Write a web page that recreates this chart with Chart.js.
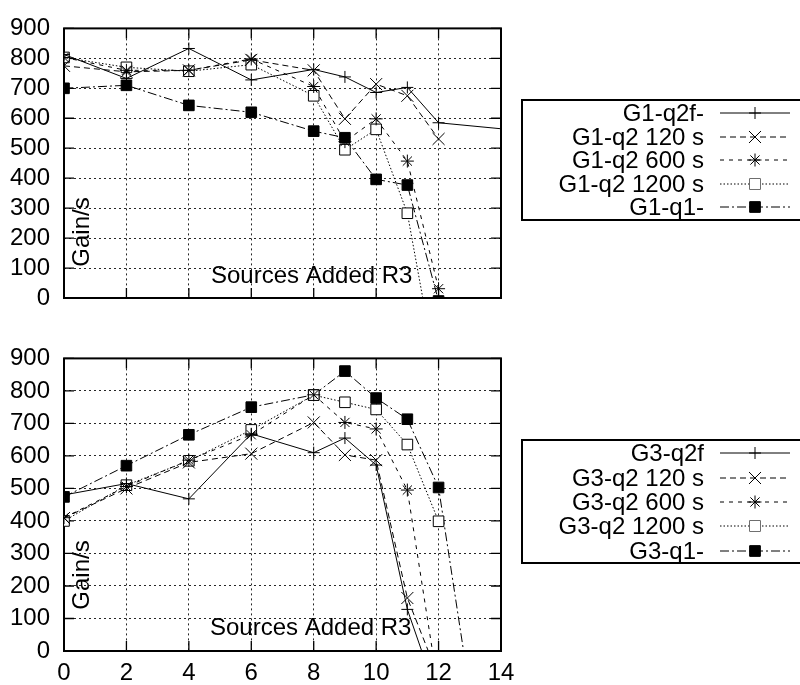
<!DOCTYPE html>
<html>
<head>
<meta charset="utf-8">
<script src="https://cdn.jsdelivr.net/npm/chart.js@4/dist/chart.umd.min.js"></script>
<style>
  html, body { margin:0; padding:0; background:#fff; }
  #wrap { position:relative; width:800px; height:685px; }
  canvas { position:absolute; left:0; }
</style>
</head>
<body>
<div id="wrap">
  <canvas id="top" width="800" height="330" style="top:0"></canvas>
  <canvas id="bot" width="800" height="355" style="top:330px"></canvas>
</div>
<script>
// ---------- data ----------
const xTop = [0, 2, 4, 6, 8, 9, 10, 11, 12, 14];
const g1_q2f      = [813, 733, 833, 728, 763, 738, 686, 703, 585, 565];
const g1_q2_120   = [775, 755, 760, 795, 760, 598, 714, 675, 531, null];
const g1_q2_600   = [803, 760, 760, 798, 706, 522, 598, 457, 31, null];
const g1_q2_1200  = [803, 770, 757, 779, 675, 495, 563, 283, -290, null];
const g1_q1       = [700, 710, 643, 620, 557, 535, 396, 377, -10, null];

const xBot = [0, 2, 4, 6, 8, 9, 10, 11, 12, 13];
const g3_q2f      = [480, 515, 468, 668, 610, 655, 572, 128, -150, null];
const g3_q2_120   = [409, 500, 580, 607, 703, 603, 587, 163, -80, null];
const g3_q2_600   = [410, 506, 587, 665, 788, 703, 683, 495, -120, null];
const g3_q2_1200  = [400, 510, 585, 680, 787, 765, 743, 635, 399, null];
const g3_q1       = [474, 570, 665, 750, 788, 861, 778, 713, 503, -125];

const labelsTop = ['G1-q2f-', 'G1-q2 120 s', 'G1-q2 600 s', 'G1-q2 1200 s', 'G1-q1-'];
const labelsBot = ['G3-q2f', 'G3-q2 120 s', 'G3-q2 600 s', 'G3-q2 1200 s', 'G3-q1-'];

const xTicks = [0, 2, 4, 6, 8, 10, 12, 14];
const yTicks = [0, 100, 200, 300, 400, 500, 600, 700, 800, 900];

// ---------- styles ----------
const FONT = "'Liberation Sans', Arial, Helvetica, sans-serif";
const styles = [
  { dash: [],            pointStyle: 'cross',    radius: 6,   fill: '#000' },
  { dash: [6, 4],        pointStyle: 'crossRot', radius: 8.5, fill: '#000' },
  { dash: [4, 5],        pointStyle: 'star',     radius: 6.5, fill: '#000' },
  { dash: [1.5, 2],      pointStyle: 'rect',     radius: 7.5, fill: '#fff' },
  { dash: [9, 3, 2, 3],  pointStyle: 'rect',     radius: 7.5, fill: '#000' }
];

function pts(xs, ys) {
  const out = [];
  xs.forEach((x, i) => { if (ys[i] !== null && ys[i] !== undefined) out.push({ x: x, y: ys[i] }); });
  return out;
}

function makeDatasets(xs, series, labels, lastNoMarker) {
  return series.map((s, i) => {
    const st = styles[i];
    const data = pts(xs, s);
    const radii = data.map((p, j) => (lastNoMarker && i === 0 && j === data.length - 1) ? 0 : st.radius);
    return {
      label: labels[i],
      data: data,
      borderColor: '#000',
      borderWidth: 1,
      borderDash: st.dash,
      backgroundColor: st.fill,
      pointBackgroundColor: st.fill,
      pointBorderColor: '#000',
      pointBorderWidth: 1,
      pointStyle: st.pointStyle,
      pointRadius: radii,
      pointHoverRadius: radii,
      tension: 0,
      fill: false
    };
  });
}

// frame with inward ticks on all four sides
const framePlugin = {
  id: 'frame',
  beforeDatasetsDraw(chart) {
    const { ctx, chartArea: a, scales } = chart;
    ctx.save();
    ctx.strokeStyle = '#000';
    ctx.lineWidth = 1.3;
    ctx.setLineDash([]);
    ctx.beginPath();
    xTicks.forEach(v => {
      const px = scales.x.getPixelForValue(v);
      ctx.moveTo(px, a.bottom); ctx.lineTo(px, a.bottom - 10);
      ctx.moveTo(px, a.top); ctx.lineTo(px, a.top + 10);
    });
    yTicks.forEach(v => {
      const py = scales.y.getPixelForValue(v);
      ctx.moveTo(a.left, py); ctx.lineTo(a.left + 10, py);
      ctx.moveTo(a.right, py); ctx.lineTo(a.right - 10, py);
    });
    ctx.stroke();
    ctx.lineWidth = 2;
    ctx.strokeRect(a.left, a.top, a.right - a.left, a.bottom - a.top);
    ctx.restore();
  },
  afterDatasetsDraw(chart, args, opts) {
    const { ctx } = chart;
    ctx.save();
    ctx.fillStyle = '#000';
    ctx.font = '24px ' + FONT;
    ctx.save();
    ctx.translate(opts.ylabX, opts.ylabY);
    ctx.rotate(-Math.PI / 2);
    ctx.textAlign = 'center';
    ctx.textBaseline = 'middle';
    ctx.fillText('Gain/s', 0, 0);
    ctx.restore();
    ctx.textAlign = 'left';
    ctx.textBaseline = 'middle';
    ctx.fillText('Sources Added R3', opts.xlabX, opts.xlabY);
    ctx.restore();
  },
  afterDraw(chart, args, opts) {
    const { ctx } = chart;
    const ds = chart.data.datasets;
    const L = opts.legend;
    ctx.save();
    ctx.fillStyle = '#fff';
    ctx.fillRect(L.left, L.top, L.right - L.left, L.bottom - L.top);
    ctx.strokeStyle = '#000';
    ctx.lineWidth = 2;
    ctx.setLineDash([]);
    ctx.strokeRect(L.left, L.top, L.right - L.left, L.bottom - L.top);
    ctx.font = '24px ' + FONT;
    ctx.textAlign = 'right';
    ctx.textBaseline = 'middle';
    ds.forEach((d, i) => {
      const y = L.rows[i];
      ctx.fillStyle = '#000';
      ctx.fillText(d.label, 704, y + 1);
      ctx.lineWidth = 1;
      ctx.setLineDash(styles[i].dash);
      ctx.beginPath();
      ctx.moveTo(720, y); ctx.lineTo(790, y);
      ctx.stroke();
      ctx.setLineDash([]);
      ctx.fillStyle = styles[i].fill;
      ctx.strokeStyle = '#000';
      Chart.helpers.drawPoint(ctx, { pointStyle: styles[i].pointStyle, radius: styles[i].radius, rotation: 0, borderWidth: 1 }, 755, y);
      if (styles[i].pointStyle === 'rect') { ctx.fill(); }
    });
    ctx.restore();
  }
};

function makeChart(id, xs, series, labels, opts) {
  const showX = opts.showX;
  return new Chart(document.getElementById(id), {
    type: 'line',
    data: { datasets: makeDatasets(xs, series, labels, opts.lastNoMarker) },
    plugins: [framePlugin],
    options: {
      responsive: false,
      animation: false,
      events: [],
      layout: { padding: opts.padding },
      plugins: {
        legend: { display: false },
        tooltip: { enabled: false },
        frame: opts.frame
      },
      scales: {
        x: {
          type: 'linear', min: 0, max: 14,
          afterBuildTicks(scale) { scale.ticks = xTicks.map(v => ({ value: v })); },
          afterFit(scale) { scale.height = opts.xHeight; },
          ticks: { display: showX, autoSkip: false, maxRotation: 0, padding: 8, color: '#000', font: { family: FONT, size: 24 } },
          grid: { color: 'rgba(0,0,0,0.85)', lineWidth: 1, drawTicks: false },
          border: { display: false, dash: [2, 3] }
        },
        y: {
          type: 'linear', min: 0, max: 900,
          afterBuildTicks(scale) { scale.ticks = yTicks.map(v => ({ value: v })); },
          afterFit(scale) { scale.width = 64; },
          ticks: { autoSkip: false, padding: 14, color: '#000', font: { family: FONT, size: 24 } },
          grid: { color: 'rgba(0,0,0,0.85)', lineWidth: 1, drawTicks: false },
          border: { display: false, dash: [2, 3] }
        }
      }
    }
  });
}

makeChart('top', xTop, [g1_q2f, g1_q2_120, g1_q2_600, g1_q2_1200, g1_q1], labelsTop, {
  showX: false,
  xHeight: 0,
  lastNoMarker: true,
  padding: { top: 20, right: 299, bottom: 32, left: 0 },
  frame: {
    ylabX: 82, ylabY: 232, xlabX: 211, xlabY: 276,
    legend: { left: 522, right: 802, top: 100, bottom: 220, rows: [113, 137, 160, 184, 207] }
  }
});

makeChart('bot', xBot, [g3_q2f, g3_q2_120, g3_q2_600, g3_q2_1200, g3_q1], labelsBot, {
  showX: true,
  xHeight: 34,
  lastNoMarker: false,
  padding: { top: 22, right: 299, bottom: 0, left: 0 },
  frame: {
    ylabX: 82, ylabY: 245, xlabX: 210, xlabY: 298,
    legend: { left: 522, right: 802, top: 110, bottom: 233, rows: [123, 148, 172, 196, 221] }
  }
});
</script>
</body>
</html>
